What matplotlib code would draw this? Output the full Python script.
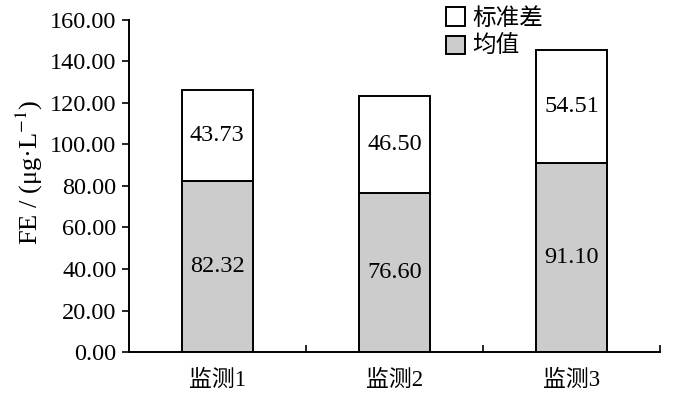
import matplotlib
matplotlib.use("Agg")
import matplotlib.pyplot as plt
import numpy as np

# data
sites = ["监测1", "监测2", "监测3"]
mean_vals = [82.32, 76.60, 91.10]
std_vals = [43.73, 46.50, 54.51]

plt.rcParams['font.family'] = ['Liberation Serif', 'Noto Sans CJK SC']
plt.rcParams['mathtext.fontset'] = 'stix'

fig = plt.figure(figsize=(7, 3.93), dpi=100)
ax = fig.add_axes([0.184, 0.104, 0.759, 0.846])

x = np.arange(len(sites))
w = 0.4
b1 = ax.bar(x, mean_vals, w, color="#cccccc", edgecolor="black", linewidth=1.4, label="均值")
b2 = ax.bar(x, std_vals, w, bottom=mean_vals, color="white", edgecolor="black", linewidth=1.4, label="标准差")

for i in range(len(sites)):
	ax.text(x[i], mean_vals[i] / 2, "%.2f" % mean_vals[i], ha="center", va="center", fontsize=17.5)
	ax.text(x[i], mean_vals[i] + std_vals[i] / 2, "%.2f" % std_vals[i], ha="center", va="center", fontsize=17.5)

ax.set_xlim(-0.5, len(sites) - 0.5)
ax.set_ylim(0, 160)
ax.set_yticks(np.arange(0, 161, 20))
ax.set_yticklabels(["%.2f" % v for v in np.arange(0, 161, 20)], fontsize=17.5)
ax.set_xticks(x)
ax.set_xticklabels(sites, fontsize=16.5)
ax.set_xticks(np.arange(0.5, len(sites), 1), minor=True)
ax.tick_params(axis="x", which="major", length=0, pad=13)
ax.tick_params(axis="x", which="minor", direction="in", length=5, width=1.2)
ax.tick_params(axis="y", direction="out", length=5, width=1.2, pad=4)

for s in ["top", "right"]:
	ax.spines[s].set_visible(False)
for s in ["left", "bottom"]:
	ax.spines[s].set_linewidth(1.4)

ax.set_ylabel("FE / (μg·L$^{-1}$)", fontsize=19)
ax.yaxis.set_label_coords(-0.158, 0.54)

leg = ax.legend([b2, b1], ["标准差", "均值"], loc="upper left", bbox_to_anchor=(0.58, 1.065),
	frameon=False, fontsize=17, handlelength=0.8, handleheight=0.8, handletextpad=0.3,
	labelspacing=0.25, borderaxespad=0)

fig.savefig("out.png", dpi=100)
